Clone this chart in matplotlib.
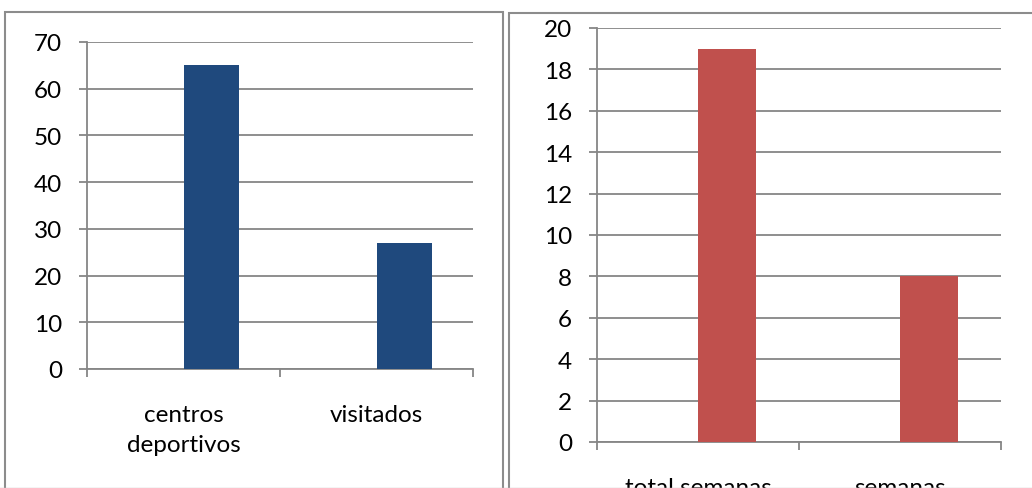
import matplotlib.pyplot as plt
from matplotlib.patches import Rectangle
from matplotlib.lines import Line2D

# data
left_labels = ["centros\ndeportivos", "visitados"]
left_values = [65, 27]
right_labels = ["total semanas", "semanas"]
right_values = [19, 8]

W, H = 1032, 489
GRID = "#868686"
BORDER = "#8c8c8c"
FS = 17.5

plt.rcParams['font.family'] = ['Lato', 'DejaVu Sans']


def frac(x0, y0, x1, y1):
    # pixel box (top-left origin) -> figure fraction [left, bottom, width, height]
    return [x0 / W, 1 - y1 / H, (x1 - x0) / W, (y1 - y0) / H]


def style_axes(ax, labels, values, color, ymax, step):
    xs = list(range(len(values)))
    ax.bar(xs, values, width=0.285, align='edge', color=color, zorder=3)
    ax.set_xlim(-0.5, len(values) - 0.5)
    ax.set_ylim(0, ymax)
    ax.set_yticks(range(0, ymax + 1, step))
    ax.yaxis.grid(True, color=GRID, linewidth=1.3, zorder=1)
    ax.set_axisbelow(True)
    for s in ['top', 'right']:
        ax.spines[s].set_visible(False)
    for s in ['left', 'bottom']:
        ax.spines[s].set_color(GRID)
        ax.spines[s].set_linewidth(1.3)
    ax.tick_params(axis='y', length=6, width=1.3, color=GRID, pad=12,
                   labelsize=FS)
    # category labels on major ticks, boundary ticks as minor
    ax.set_xticks(xs)
    ax.set_xticklabels(labels, fontsize=FS, linespacing=1.55)
    ax.tick_params(axis='x', which='major', length=0, pad=25)
    ax.set_xticks([i - 0.5 for i in range(len(values) + 1)], minor=True)
    ax.tick_params(axis='x', which='minor', length=6, width=1.3, color=GRID,
                   direction='out')


fig = plt.figure(figsize=(W / 100, H / 100), dpi=100)

# panel borders
fig.add_artist(Rectangle((5 / W, 1 - 520 / H), (503 - 5) / W, (520 - 13) / H,
                         transform=fig.transFigure, fill=False,
                         edgecolor=BORDER, linewidth=1.5))
fig.add_artist(Rectangle((509 / W, 1 - 520 / H), (1100 - 509) / W, (520 - 14) / H,
                         transform=fig.transFigure, fill=False,
                         edgecolor=BORDER, linewidth=1.5))
fig.add_artist(Line2D([0, 1], [0.5 / H, 0.5 / H], transform=fig.transFigure,
                      color="#c8c8c8", linewidth=1.0))

ax1 = fig.add_axes(frac(87, 43, 473, 370))
style_axes(ax1, left_labels, left_values, "#1F497D", 70, 10)

ax2 = fig.add_axes(frac(597, 29, 1001, 443))
style_axes(ax2, right_labels, right_values, "#C0504D", 20, 2)

fig.savefig("out.png", dpi=100)
